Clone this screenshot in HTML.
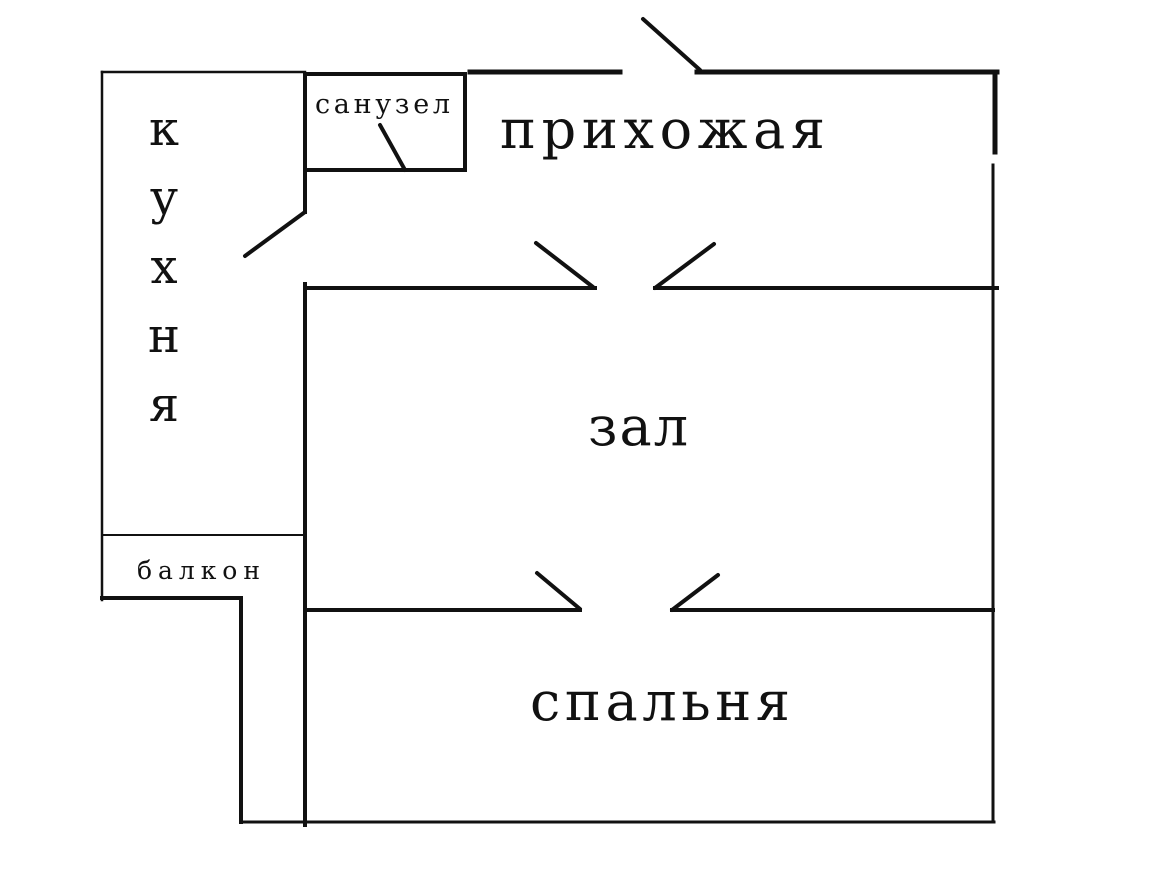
<!DOCTYPE html>
<html><head><meta charset="utf-8"><style>
html,body{margin:0;padding:0;background:#fff;}
svg{display:block;}
text{font-family:"DejaVu Serif","Liberation Serif",serif;fill:#111;}
</style></head><body>
<svg width="1167" height="875" viewBox="0 0 1167 875" xmlns="http://www.w3.org/2000/svg">
<g stroke="#111" fill="none" stroke-linecap="square">
<line x1="102" y1="72" x2="305" y2="72" stroke-width="2.5"/>
<line x1="102" y1="72" x2="102" y2="600" stroke-width="2.5"/>
<line x1="102" y1="535" x2="305" y2="535" stroke-width="2"/>
<line x1="102" y1="598" x2="241" y2="598" stroke-width="4"/>
<line x1="241" y1="598" x2="241" y2="822" stroke-width="4"/>
<line x1="241" y1="822" x2="994" y2="822" stroke-width="3"/>
<line x1="305" y1="74" x2="465" y2="74" stroke-width="4"/>
<line x1="305" y1="74" x2="305" y2="212" stroke-width="4"/>
<line x1="305" y1="170" x2="465" y2="170" stroke-width="4"/>
<line x1="465" y1="74" x2="465" y2="170" stroke-width="4"/>
<line x1="380" y1="125" x2="405" y2="170" stroke-width="4" stroke-linecap="round"/>
<line x1="245" y1="256" x2="305" y2="212" stroke-width="4" stroke-linecap="round"/>
<line x1="470" y1="72" x2="620" y2="72" stroke-width="5"/>
<line x1="643" y1="19" x2="700" y2="70" stroke-width="4" stroke-linecap="round"/>
<line x1="697" y1="72" x2="997" y2="72" stroke-width="5"/>
<line x1="995" y1="72" x2="995" y2="152" stroke-width="5"/>
<line x1="993" y1="165" x2="993" y2="822" stroke-width="3"/>
<line x1="305" y1="288" x2="595" y2="288" stroke-width="4"/>
<line x1="536" y1="243" x2="593" y2="287" stroke-width="4" stroke-linecap="round"/>
<line x1="655" y1="288" x2="714" y2="244" stroke-width="4" stroke-linecap="round"/>
<line x1="655" y1="288" x2="997" y2="288" stroke-width="4"/>
<line x1="305" y1="284" x2="305" y2="825" stroke-width="4"/>
<line x1="305" y1="610" x2="580" y2="610" stroke-width="4"/>
<line x1="537" y1="573" x2="580" y2="609" stroke-width="4" stroke-linecap="round"/>
<line x1="672" y1="610" x2="718" y2="575" stroke-width="4" stroke-linecap="round"/>
<line x1="672" y1="610" x2="993" y2="610" stroke-width="4"/>
</g>
<g font-size="48" text-anchor="middle">
<text x="164" y="145">к</text>
<text x="164" y="214">у</text>
<text x="164" y="283">х</text>
<text x="164" y="352">н</text>
<text x="164" y="421">я</text>
</g>
<text x="315" y="113" font-size="27" textLength="135" lengthAdjust="spacing">санузел</text>
<text x="137" y="579" font-size="25" textLength="123" lengthAdjust="spacing">балкон</text>
<text x="500" y="148" font-size="54" textLength="325" lengthAdjust="spacing">прихожая</text>
<text x="588" y="445" font-size="54" textLength="100" lengthAdjust="spacing">зал</text>
<text x="530" y="720" font-size="54" textLength="260" lengthAdjust="spacing">спальня</text>
</svg>
</body></html>
